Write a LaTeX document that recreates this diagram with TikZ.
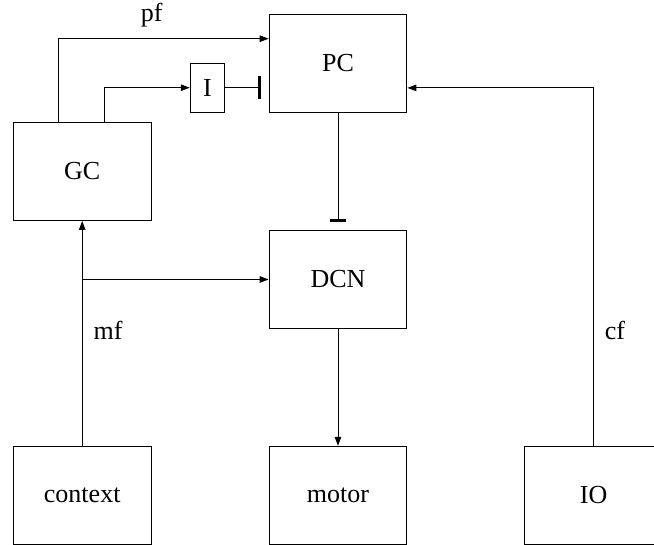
\documentclass[tikz,border=0pt]{standalone}
\usepackage{fontspec}
\setmainfont{Liberation Serif}
\usetikzlibrary{arrows.meta}
\begin{document}
\begin{tikzpicture}[x=1pt,y=-1pt,
  box/.style={draw, line width=1pt, inner sep=0pt, minimum width=137.7pt, minimum height=98.3pt, font=\fontsize{26}{30}\selectfont},
  smallbox/.style={draw, line width=1pt, inner sep=0pt, minimum width=34.4pt, minimum height=49.3pt, font=\fontsize{26}{30}\selectfont},
  lbl/.style={inner sep=0pt, font=\fontsize{26}{30}\selectfont},
  conn/.style={line width=1pt},
  arr/.style={conn, -{Triangle[length=9pt,width=6.5pt]}},
  inhibA/.style={conn, -{Bar[width=22.6pt,line width=2.5pt]}, shorten >=8pt},
  inhibB/.style={conn, -{Bar[width=16pt,line width=2.5pt]}, shorten >=8pt}]
\useasboundingbox (0,0) rectangle (654,545);
\node[box] (PC) at (338,63.3) {PC};
\node[box] (GC) at (82.2,171.3) {GC};
\node[box] (DCN) at (338,279.5) {DCN};
\node[box] (context) at (82.2,495.5) {context};
\node[box] (motor) at (338,495.5) {motor};
\node[box] (IO) at (593.7,495.5) {IO};
\node[smallbox] (I) at (207.5,87.7) {I};
\node[lbl] (pf) at (151.7,15) {pf};
\node[lbl] (mf) at (108,330) {mf};
\node[lbl] (cf) at (615,330) {cf};
\draw[arr] ([xshift=46pt]GC.north west) |- ([yshift=24.6pt]PC.west);
\draw[arr] ([xshift=92pt]GC.north west) |- (I.west);
\draw[inhibA] (I.east) -- (I.east -| PC.west);
\draw[arr] (IO.north) |- ([yshift=-24.6pt]PC.east);
\draw[inhibB] (PC.south) -- (DCN.north);
\draw[arr] (DCN.south) -- (motor.north);
\draw[arr] (context.north) -- (GC.south);
\draw[arr] (context.north |- DCN.west) -- (DCN.west);
\end{tikzpicture}
\end{document}
